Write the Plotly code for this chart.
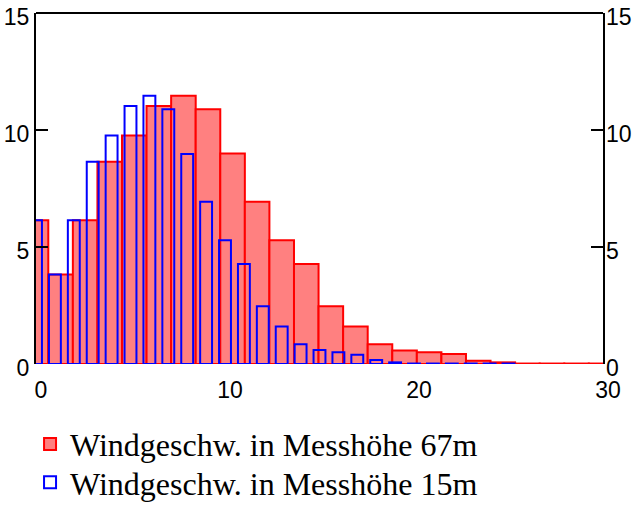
import plotly.graph_objects as go

# Data
red_x = [0, 1.3, 2.6, 3.9, 5.2, 6.5, 7.8, 9.1, 10.4, 11.7, 13.0, 14.3,
         15.6, 16.9, 18.2, 19.5, 20.8, 22.1, 23.4, 24.7, 26.0, 27.3, 28.6, 29.9]
red_vals = [6.14, 3.83, 6.14, 8.64, 9.76, 11.03, 11.46, 10.89, 9.0, 6.93, 5.29, 4.27,
            2.47, 1.6, 0.84, 0.58, 0.5, 0.43, 0.14, 0.07, 0.02, 0.02, 0.02, 0.02]
blue_x = [0, 1, 2, 3, 4, 5, 6, 7, 8, 9, 10, 11, 12,
          13, 14, 15, 16, 17, 18, 19, 20, 21, 22, 23, 24, 25]
blue_vals = [6.14, 3.83, 6.14, 8.64, 9.76, 11.03, 11.46, 10.89, 8.97, 6.93, 5.29, 4.27, 2.47,
             1.6, 0.84, 0.6, 0.5, 0.4, 0.17, 0.07, 0.02, 0.02, 0.02, 0.02, 0.02, 0.02]
x_ticks = [0, 10, 20, 30]
y_ticks = [0, 5, 10, 15]
name_red = "Windgeschw. in Messhöhe 67m"
name_blue = "Windgeschw. in Messhöhe 15m"

fig = go.Figure()
fig.add_trace(go.Bar(
    x=red_x, y=red_vals, width=1.3, name=name_red, legend="legend",
    marker=dict(color="#FF8080", line=dict(color="#FF0000", width=2)),
))
fig.add_trace(go.Bar(
    x=blue_x, y=blue_vals, width=0.63, name=name_blue, yaxis="y2", legend="legend2",
    marker=dict(color="rgba(0,0,0,0)", line=dict(color="#0000FF", width=2)),
))

tickfont = dict(family="Liberation Sans, Arial", size=23, color="black")
legfont = dict(family="Liberation Serif, Times New Roman", size=32, color="black")
fig.update_layout(
    width=635, height=507,
    margin=dict(l=36, r=32, t=13, b=143, autoexpand=False),
    paper_bgcolor="white", plot_bgcolor="white",
    barmode="overlay",
    showlegend=True,
    legend=dict(
        x=-0.0105, y=-0.150, xanchor="left", yanchor="top",
        font=legfont, bgcolor="rgba(0,0,0,0)", itemwidth=30,
    ),
    legend2=dict(
        x=-0.0105, y=-0.259, xanchor="left", yanchor="top",
        font=legfont, bgcolor="rgba(0,0,0,0)", itemwidth=30,
    ),
    xaxis=dict(
        range=[0, 30], tickvals=x_ticks, ticks="", showline=False, automargin=False,
        showgrid=False, zeroline=False, tickfont=tickfont, ticklabelshift=5,
        ticklabelstandoff=10, ticklabeloverflow="allow",
    ),
    yaxis=dict(
        range=[0, 15], tickvals=y_ticks, ticks="inside", ticklen=12, tickwidth=2,
        tickcolor="black", showline=True, linecolor="black", linewidth=2,
        mirror="ticks", showgrid=False, zeroline=False, tickfont=tickfont,
        automargin=False, ticklabelshift=4, ticklabeloverflow="allow",
    ),
    yaxis2=dict(
        range=[0, 15], tickvals=y_ticks, overlaying="y", side="right",
        ticks="", showline=False, showgrid=False, zeroline=False, tickfont=tickfont,
        automargin=False, ticklabelshift=4, ticklabelstandoff=2,
        ticklabeloverflow="allow",
    ),
    shapes=[dict(type="line", xref="paper", yref="paper", x0=0, x1=1, y0=1, y1=1,
                 line=dict(color="black", width=2))],
)

fig.write_html("out.html")
